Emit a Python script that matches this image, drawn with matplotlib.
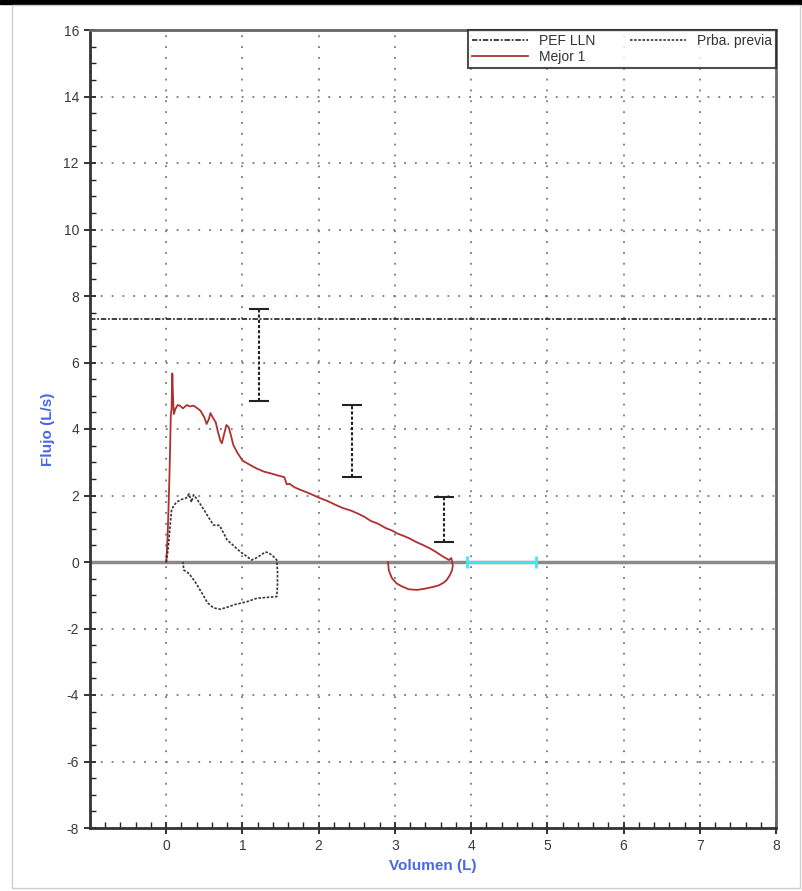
import numpy as np
import matplotlib
matplotlib.use("Agg")
import matplotlib.pyplot as plt
from matplotlib.ticker import MultipleLocator
from matplotlib.patches import Rectangle

plt.rcParams['font.family'] = ['Liberation Sans', 'DejaVu Sans']
plt.rcParams['axes.unicode_minus'] = False

# best curve (Mejor 1): volume (L), flow (L/s)
mejor_vol = [0.0, 0.01, 0.02, 0.03, 0.04, 0.05, 0.06, 0.07, 0.08, 0.09, 0.10, 0.12,
             0.15, 0.18, 0.22, 0.27, 0.31, 0.36, 0.41, 0.45, 0.50, 0.53, 0.56,
             0.58, 0.61, 0.65, 0.68, 0.71, 0.73, 0.76, 0.79, 0.82, 0.85, 0.88,
             0.93, 1.00, 1.10, 1.18, 1.28, 1.38, 1.47, 1.52, 1.55, 1.58, 1.62,
             1.68, 1.76, 1.84, 1.92, 2.02, 2.12, 2.22, 2.32, 2.42, 2.52, 2.60,
             2.68, 2.78, 2.88, 2.96, 3.03, 3.12, 3.20, 3.28, 3.36, 3.46, 3.54,
             3.62, 3.68, 3.71, 3.74, 3.76, 3.75, 3.72, 3.68, 3.64, 3.58, 3.50,
             3.40, 3.29, 3.18, 3.08, 3.02, 2.96, 2.92, 2.91]
mejor_flow = [0.0, 0.4, 0.9, 1.6, 2.4, 3.3, 4.4, 4.6, 5.67, 4.9, 4.45, 4.6,
              4.72, 4.70, 4.62, 4.72, 4.68, 4.70, 4.62, 4.55, 4.35, 4.15, 4.30,
              4.48, 4.35, 4.20, 3.90, 3.65, 3.57, 3.85, 4.12, 4.05, 3.80, 3.52,
              3.30, 3.05, 2.92, 2.82, 2.72, 2.66, 2.60, 2.57, 2.55, 2.34, 2.35,
              2.25, 2.17, 2.10, 2.02, 1.92, 1.83, 1.72, 1.62, 1.55, 1.45, 1.36,
              1.24, 1.15, 1.02, 0.95, 0.86, 0.78, 0.70, 0.60, 0.52, 0.41, 0.30,
              0.18, 0.10, 0.06, 0.12, -0.10, -0.25, -0.40, -0.54, -0.62, -0.70,
              -0.75, -0.80, -0.84, -0.82, -0.72, -0.64, -0.48, -0.25, 0.0]

# previous test (Prba. previa)
previa_vol = [0.0, 0.02, 0.04, 0.07, 0.10, 0.14, 0.20, 0.26, 0.30, 0.33, 0.36,
              0.40, 0.47, 0.54, 0.62, 0.70, 0.80, 0.88, 0.97, 1.05, 1.12, 1.18,
              1.25, 1.30, 1.34, 1.40, 1.45, 1.46, 1.46, 1.45, 1.40, 1.30, 1.19,
              1.05, 0.90, 0.80, 0.71, 0.62, 0.54, 0.47, 0.38, 0.30, 0.23, 0.22]
previa_flow = [0.0, 0.3, 0.8, 1.56, 1.70, 1.81, 1.88, 1.92, 2.05, 1.80, 2.02,
               1.90, 1.66, 1.40, 1.11, 1.10, 0.66, 0.50, 0.31, 0.18, 0.06, 0.12,
               0.22, 0.30, 0.28, 0.18, 0.06, -0.30, -0.70, -1.04, -1.05, -1.07, -1.09,
               -1.20, -1.28, -1.36, -1.42, -1.38, -1.22, -0.94, -0.60, -0.35, -0.24, 0.0]

pef_lln = 7.3

# predicted range bars
bar_vol = [1.22, 2.44, 3.64]
bar_low = [4.84, 2.57, 0.61]
bar_high = [7.60, 4.72, 1.95]

# cyan segment on the zero line
cyan_vol = [3.95, 4.85]

fig = plt.figure(figsize=(8.03, 8.91), dpi=100)
fig.patches.append(Rectangle((0, 1 - 4 / 891), 1, 4 / 891, transform=fig.transFigure,
                             color='black', zorder=0))
fig.patches.append(Rectangle((12 / 803, 3 / 891), 788 / 803, 883 / 891,
                             transform=fig.transFigure, fill=False,
                             edgecolor='#cfcfcf', lw=1, zorder=0))

ax = fig.add_axes([90 / 803, 63 / 891, 686 / 803, 798 / 891])
ax.set_xlim(-1, 8)
ax.set_ylim(-8, 16)

ax.xaxis.set_major_locator(MultipleLocator(1))
ax.xaxis.set_minor_locator(MultipleLocator(0.2))
ax.yaxis.set_major_locator(MultipleLocator(2))
ax.yaxis.set_minor_locator(MultipleLocator(0.5))
ax.set_xticks(range(0, 9))
ax.set_xticklabels([str(v) for v in range(0, 9)])

ax.grid(True, which='major', color='#777777', linestyle=(0, (1, 5)), linewidth=1.3)
ax.tick_params(which='major', direction='inout', length=9, width=1.3, colors='#222222',
               labelsize=10, labelcolor='#3a3a3a')
ax.tick_params(which='minor', direction='in', length=4, width=1, colors='#222222')

for s in ['left', 'bottom']:
    ax.spines[s].set_linewidth(2)
    ax.spines[s].set_color('#333333')
for s in ['top', 'right']:
    ax.spines[s].set_linewidth(2)
    ax.spines[s].set_color('#666666')

ax.axhline(0, color='#8a8a8a', lw=2.5, zorder=2)
ax.axhline(pef_lln, color='#333333', lw=1.3, linestyle=(0, (3, 1, 1, 1)),
           label='PEF LLN', zorder=3)

ax.plot(mejor_vol, mejor_flow, color='#b03030', lw=1.3, label='Mejor 1', zorder=4)
ax.plot(previa_vol, previa_flow, color='#333333', lw=1.2, linestyle=(0, (1.5, 1)),
        label='Prba. previa', zorder=4)

mid = [(lo + hi) / 2 for lo, hi in zip(bar_low, bar_high)]
err = [(hi - lo) / 2 for lo, hi in zip(bar_low, bar_high)]
eb = ax.errorbar(bar_vol, mid, yerr=err, fmt='none', ecolor='#222222',
                 elinewidth=1.5, capsize=7, capthick=1.5, zorder=4)
eb[2][0].set_linestyle((0, (1.5, 1)))

ax.plot(cyan_vol, [0, 0], color='#40e8f0', lw=2, zorder=5,
        marker='|', markersize=8, markeredgewidth=2)

ax.set_xlabel('Volumen (L)', color='#4a66ea', fontsize=11, fontweight='bold', labelpad=4)
ax.set_ylabel('Flujo (L/s)', color='#4a66ea', fontsize=11, fontweight='bold', labelpad=6)

leg = ax.legend(loc='upper right', ncol=2, fontsize=10, frameon=True, fancybox=False,
                borderaxespad=0, handlelength=4, columnspacing=2.5, labelspacing=0.1,
                borderpad=0.3)
leg.get_frame().set_edgecolor('#222222')
leg.get_frame().set_linewidth(1.5)
for t in leg.get_texts():
    t.set_color('#333333')

fig.savefig('out.png', dpi=100)
